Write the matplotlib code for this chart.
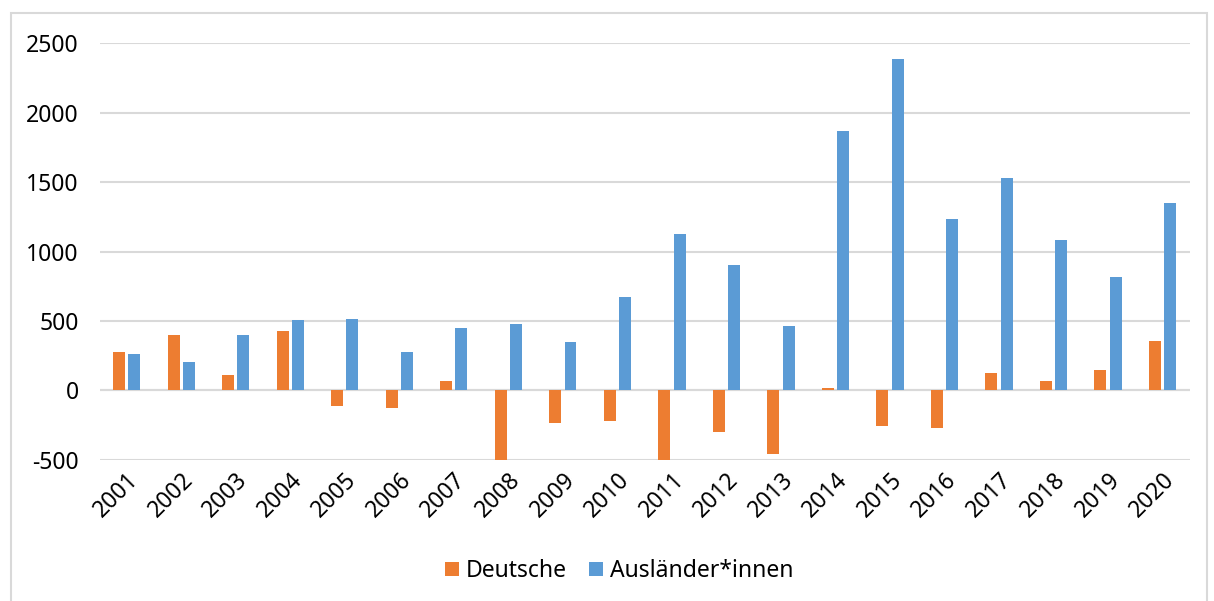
import matplotlib.pyplot as plt
import numpy as np
from matplotlib.patches import Rectangle

# data
years = [str(y) for y in range(2001, 2021)]
deutsche = [275, 402, 108, 431, -110, -129, 69, -500, -237, -220,
            -505, -297, -457, 14, -258, -268, 126, 65, 145, 357]
auslaender = [265, 201, 397, 507, 517, 278, 447, 481, 349, 674,
              1123, 901, 466, 1870, 2384, 1232, 1529, 1080, 816, 1348]

plt.rcParams["font.family"] = ["Noto Sans", "DejaVu Sans"]
plt.rcParams["axes.unicode_minus"] = False

fig = plt.figure(figsize=(12.14, 6.01), dpi=100)
ax = fig.add_axes([0.082, 0.235, 0.898, 0.693])

x = np.arange(len(years))
width = 0.22
offset = 0.14
ax.bar(x - offset, deutsche, width, color="#ED7D31", label="Deutsche", zorder=3)
ax.bar(x + offset, auslaender, width, color="#5B9BD5", label="Ausländer*innen", zorder=3)

ax.set_xlim(-0.5, len(years) - 0.5)
ax.set_ylim(-500, 2500)
ax.set_yticks(range(-500, 2501, 500))
ax.grid(axis="y", color="#D9D9D9", linewidth=1.5, zorder=0)
ax.axhline(0, color="#D9D9D9", linewidth=1.5, zorder=1)

for side in ["top", "right", "left", "bottom"]:
    ax.spines[side].set_visible(False)
ax.tick_params(axis="both", length=0, labelsize=16.5)
ax.tick_params(axis="y", pad=15)
ax.tick_params(axis="x", pad=6)
ax.set_xticks(x)
ax.set_xticklabels(years, rotation=45, ha="right", rotation_mode="anchor")

ax.legend(loc="center", bbox_to_anchor=(0.51, 0.05), bbox_transform=fig.transFigure,
          ncol=2, frameon=False, fontsize=16.5, handlelength=0.6, handleheight=0.6,
          handletextpad=0.3, columnspacing=1.0)

# chart frame
fig.patches.append(Rectangle((0.009, -0.01), 0.985, 0.988, transform=fig.transFigure,
                             fill=False, edgecolor="#D9D9D9", linewidth=1.5))

fig.savefig("out.png", dpi=100)
